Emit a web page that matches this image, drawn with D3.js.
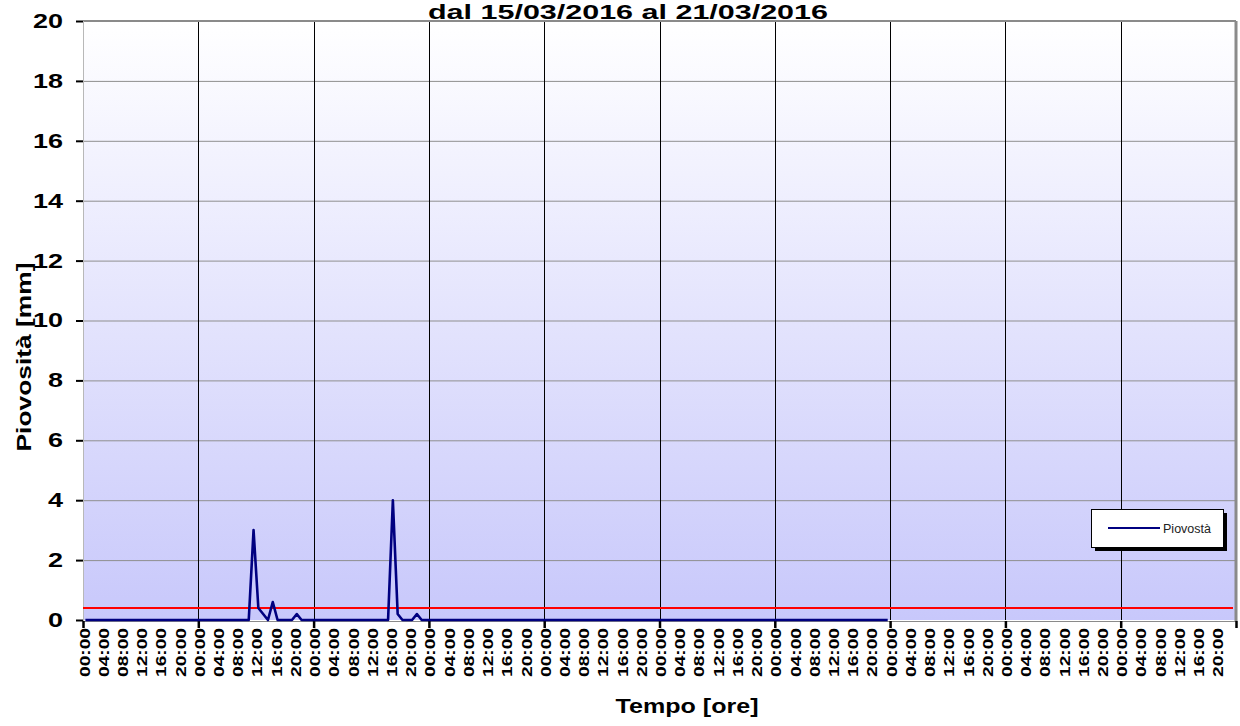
<!DOCTYPE html>
<html>
<head>
<meta charset="utf-8">
<script src="https://cdn.jsdelivr.net/npm/d3@7"></script>
<style>
  body { margin: 0; background: #fff; }
  svg { display: block; font-family: "Liberation Sans", Arial, sans-serif; }
</style>
</head>
<body>
<script>
// testi
var titolo = "dal 15/03/2016 al 21/03/2016";
var titoloY = "Piovosità [mm]";
var titoloX = "Tempo [ore]";
var nomeSerie = "Piovostà";

// giorni sull'asse (la serie copre solo i primi 7)
var giorni = ["15/03", "16/03", "17/03", "18/03", "19/03", "20/03", "21/03", "22/03", "23/03", "24/03"];
var etichetteOre = ["00:00", "04:00", "08:00", "12:00", "16:00", "20:00"];
var tickY = [0, 2, 4, 6, 8, 10, 12, 14, 16, 18, 20];

// soglia (linea rossa)
var soglia = 0.4;

// piovosita oraria [mm], 15/03 00:00 -> 21/03 23:00
var piovosita = [
  0, 0, 0, 0, 0, 0, 0, 0, 0, 0, 0, 0, 0, 0, 0, 0, 0, 0, 0, 0, 0, 0, 0, 0,
  0, 0, 0, 0, 0, 0, 0, 0, 0, 0, 0, 3.0, 0.4, 0.2, 0, 0.6, 0, 0, 0, 0, 0.2, 0, 0, 0,
  0, 0, 0, 0, 0, 0, 0, 0, 0, 0, 0, 0, 0, 0, 0, 0, 4.0, 0.2, 0, 0, 0, 0.2, 0, 0,
  0, 0, 0, 0, 0, 0, 0, 0, 0, 0, 0, 0, 0, 0, 0, 0, 0, 0, 0, 0, 0, 0, 0, 0,
  0, 0, 0, 0, 0, 0, 0, 0, 0, 0, 0, 0, 0, 0, 0, 0, 0, 0, 0, 0, 0, 0, 0, 0,
  0, 0, 0, 0, 0, 0, 0, 0, 0, 0, 0, 0, 0, 0, 0, 0, 0, 0, 0, 0, 0, 0, 0, 0,
  0, 0, 0, 0, 0, 0, 0, 0, 0, 0, 0, 0, 0, 0, 0, 0, 0, 0, 0, 0, 0, 0, 0, 0
];

var W = 1240, H = 726;
var plot = {left: 83, right: 1236, top: 21, bottom: 620};

var oreTot = giorni.length * 24;
var x = d3.scaleLinear().domain([0, oreTot]).range([plot.left, plot.right]);
var y = d3.scaleLinear().domain([0, 20]).range([plot.bottom, plot.top]);

var svg = d3.select("body").append("svg")
    .attr("width", W)
    .attr("height", H);

// sfondo sfumato
var grad = svg.append("defs").append("linearGradient")
    .attr("id", "sfondo")
    .attr("x1", 0).attr("y1", 0).attr("x2", 0).attr("y2", 1);
grad.append("stop").attr("offset", "0%").attr("stop-color", "#ffffff");
grad.append("stop").attr("offset", "100%").attr("stop-color", "#c8c8fb");

svg.append("rect")
    .attr("x", plot.left)
    .attr("y", plot.top)
    .attr("width", plot.right - plot.left)
    .attr("height", plot.bottom - plot.top)
    .attr("fill", "url(#sfondo)");

// griglia orizzontale
svg.selectAll(".grid-y")
    .data(tickY.slice(1, -1))
  .enter().append("line")
    .attr("class", "grid-y")
    .attr("x1", plot.left).attr("x2", plot.right)
    .attr("y1", function(d) { return y(d) + 0.5; })
    .attr("y2", function(d) { return y(d) + 0.5; })
    .attr("stroke", "#8f8f8f")
    .attr("stroke-width", 1);

// griglia verticale (cambio giorno)
svg.selectAll(".grid-x")
    .data(giorni.slice(1))
  .enter().append("line")
    .attr("class", "grid-x")
    .attr("x1", function(d, i) { return Math.round(x((i + 1) * 24)) + 0.5; })
    .attr("x2", function(d, i) { return Math.round(x((i + 1) * 24)) + 0.5; })
    .attr("y1", plot.top).attr("y2", plot.bottom)
    .attr("stroke", "#000")
    .attr("stroke-width", 1);

// bordi
svg.append("line")
    .attr("x1", plot.left).attr("x2", plot.right)
    .attr("y1", plot.top).attr("y2", plot.top)
    .attr("stroke", "#8a8a8a").attr("stroke-width", 2);
svg.append("line")
    .attr("x1", plot.right).attr("x2", plot.right)
    .attr("y1", plot.top).attr("y2", plot.bottom + 1)
    .attr("stroke", "#8a8a8a").attr("stroke-width", 3);
svg.append("line")
    .attr("x1", plot.left + 0.5).attr("x2", plot.left + 0.5)
    .attr("y1", plot.top).attr("y2", plot.bottom + 1)
    .attr("stroke", "#b8b8b8").attr("stroke-width", 1);

// linea di soglia
svg.append("line")
    .attr("x1", plot.left).attr("x2", plot.right - 3)
    .attr("y1", y(soglia)).attr("y2", y(soglia))
    .attr("stroke", "#ff0000")
    .attr("stroke-width", 2);

// asse y
var yAxis = d3.axisLeft(y)
    .tickValues(tickY)
    .tickSize(7)
    .tickPadding(13);

var gy = svg.append("g")
    .attr("transform", "translate(" + plot.left + ",0)")
    .call(yAxis);
gy.select(".domain").remove();
gy.selectAll(".tick line").attr("stroke", "#000").attr("stroke-width", 2);
gy.selectAll(".tick text")
    .attr("fill", "#000")
    .style("font-size", "20px")
    .style("font-weight", "bold")
    .attr("textLength", function(d) { return String(d).length * 15; })
    .attr("lengthAdjust", "spacingAndGlyphs");

// asse x: linea e tacche dei giorni
var xGiorni = d3.axisBottom(x)
    .tickValues(giorni.map(function(d, i) { return i * 24; }).concat([oreTot]))
    .tickSize(7)
    .tickFormat("");

var gxd = svg.append("g")
    .attr("transform", "translate(0," + (plot.bottom + 1) + ")")
    .call(xGiorni);
gxd.select(".domain").attr("stroke", "#8a8a8a").attr("stroke-width", 1);
gxd.selectAll(".tick line").attr("stroke", "#000").attr("stroke-width", 2.5);

// serie
var linea = d3.line()
    .x(function(d, i) { return x(i + 0.5); })
    .y(function(d) { return y(d); });

svg.append("path")
    .datum(piovosita)
    .attr("d", linea)
    .attr("fill", "none")
    .attr("stroke", "#000080")
    .attr("stroke-width", 2.6)
    .attr("stroke-linejoin", "round");

// asse x: etichette ore
var oreTick = [];
giorni.forEach(function(g, gi) {
  etichetteOre.forEach(function(e, ei) { oreTick.push(gi * 24 + ei * 4); });
});

var xOre = d3.axisBottom(x)
    .tickValues(oreTick)
    .tickSize(0)
    .tickFormat(function(d, i) { return etichetteOre[i % etichetteOre.length]; });

var gx = svg.append("g")
    .attr("transform", "translate(1," + (plot.bottom + 1) + ")")
    .call(xOre);
gx.select(".domain").remove();
gx.selectAll(".tick text")
    .attr("fill", "#000")
    .attr("transform", "rotate(-90)")
    .attr("x", -7)
    .attr("y", 0)
    .attr("dy", "0.36em")
    .style("text-anchor", "end")
    .style("font-size", "14px")
    .style("font-weight", "bold")
    .attr("textLength", 49)
    .attr("lengthAdjust", "spacingAndGlyphs");

// titoli
svg.append("text")
    .attr("x", 628)
    .attr("y", 19)
    .style("text-anchor", "middle")
    .style("font-size", "20px")
    .style("font-weight", "bold")
    .attr("textLength", 400)
    .attr("lengthAdjust", "spacingAndGlyphs")
    .text(titolo);

svg.append("text")
    .attr("transform", "translate(31,357) rotate(-90)")
    .style("text-anchor", "middle")
    .style("font-size", "21px")
    .style("font-weight", "bold")
    .attr("textLength", 189)
    .attr("lengthAdjust", "spacingAndGlyphs")
    .text(titoloY);

svg.append("text")
    .attr("x", 687)
    .attr("y", 713)
    .style("text-anchor", "middle")
    .style("font-size", "21px")
    .style("font-weight", "bold")
    .attr("textLength", 143)
    .attr("lengthAdjust", "spacingAndGlyphs")
    .text(titoloX);

// legenda
var leg = svg.append("g").attr("transform", "translate(1091,509)");
leg.append("rect")
    .attr("x", 4).attr("y", 4)
    .attr("width", 132).attr("height", 38)
    .attr("fill", "#000");
leg.append("rect")
    .attr("x", 0.5).attr("y", 0.5)
    .attr("width", 132).attr("height", 38)
    .attr("fill", "#fff")
    .attr("stroke", "#000")
    .attr("stroke-width", 1);
leg.append("line")
    .attr("x1", 17).attr("x2", 69)
    .attr("y1", 19).attr("y2", 19)
    .attr("stroke", "#000080")
    .attr("stroke-width", 2);
leg.append("text")
    .attr("x", 72)
    .attr("y", 24)
    .style("font-size", "12px")
    .attr("fill", "#222")
    .attr("textLength", 48)
    .attr("lengthAdjust", "spacingAndGlyphs")
    .text(nomeSerie);
</script>
</body>
</html>
